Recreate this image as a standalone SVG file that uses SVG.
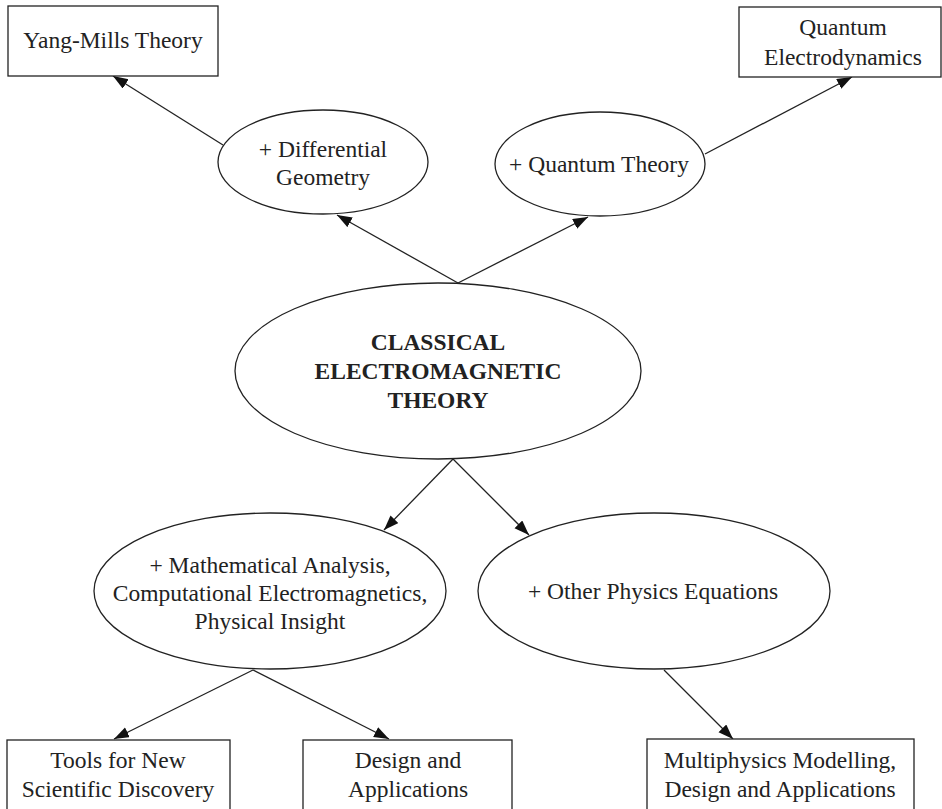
<svg xmlns="http://www.w3.org/2000/svg" width="942" height="809" viewBox="0 0 942 809">
<style>
.n{fill:#fff;stroke:#222;stroke-width:1.3}
.t{font-family:"Liberation Serif",serif;font-size:23.5px;fill:#222;text-anchor:middle}
.b{font-weight:bold;font-size:23.5px}
.e{stroke:#222;stroke-width:1.3;fill:none}
</style>
<defs>
<marker id="ah" markerUnits="userSpaceOnUse" markerWidth="16" markerHeight="12" refX="15" refY="5.5" orient="auto">
<path d="M0,0 L15,5.5 L0,11 z" fill="#111"/>
</marker>
</defs>
<g id="connectors">
<line class="e" x1="223" y1="145" x2="113" y2="76" marker-end="url(#ah)"/>
<line class="e" x1="705" y1="154" x2="852" y2="77" marker-end="url(#ah)"/>
<line class="e" x1="458" y1="283" x2="337" y2="215" marker-end="url(#ah)"/>
<line class="e" x1="458" y1="283" x2="588" y2="217" marker-end="url(#ah)"/>
<line class="e" x1="453" y1="459" x2="384" y2="530" marker-end="url(#ah)"/>
<line class="e" x1="453" y1="459" x2="529" y2="535" marker-end="url(#ah)"/>
<line class="e" x1="253" y1="670" x2="114" y2="739" marker-end="url(#ah)"/>
<line class="e" x1="253" y1="670" x2="389" y2="739" marker-end="url(#ah)"/>
<line class="e" x1="664" y1="670" x2="733" y2="739" marker-end="url(#ah)"/>
</g>
<g id="yangmills">
<rect class="n" x="8" y="6" width="210" height="70"/>
<text class="t" x="113" y="48">Yang-Mills Theory</text>
</g>
<g id="qed">
<rect class="n" x="739" y="7" width="202" height="70"/>
<text class="t" x="843" y="35">Quantum</text>
<text class="t" x="843" y="65">Electrodynamics</text>
</g>
<g id="diffgeom">
<ellipse class="n" cx="323" cy="162" rx="105" ry="52"/>
<text class="t" x="323" y="157">+ Differential</text>
<text class="t" x="323" y="185">Geometry</text>
</g>
<g id="quantum">
<ellipse class="n" cx="600" cy="164" rx="105" ry="52"/>
<text class="t" x="599" y="172">+ Quantum Theory</text>
</g>
<g id="classical">
<ellipse class="n" cx="438" cy="371" rx="203" ry="88"/>
<text class="t b" x="438" y="350">CLASSICAL</text>
<text class="t b" x="438" y="379">ELECTROMAGNETIC</text>
<text class="t b" x="438" y="408">THEORY</text>
</g>
<g id="math">
<ellipse class="n" cx="270" cy="591" rx="176" ry="78"/>
<text class="t" x="270" y="573">+ Mathematical Analysis,</text>
<text class="t" x="270" y="601">Computational Electromagnetics,</text>
<text class="t" x="270" y="629">Physical Insight</text>
</g>
<g id="other">
<ellipse class="n" cx="654" cy="591" rx="176" ry="78"/>
<text class="t" x="653" y="599">+ Other Physics Equations</text>
</g>
<g id="tools">
<rect class="n" x="7" y="740" width="223" height="80"/>
<text class="t" x="118" y="768">Tools for New</text>
<text class="t" x="118" y="797">Scientific Discovery</text>
</g>
<g id="design">
<rect class="n" x="303" y="740" width="209" height="80"/>
<text class="t" x="408" y="768">Design and</text>
<text class="t" x="408" y="797">Applications</text>
</g>
<g id="multi">
<rect class="n" x="647" y="739" width="267" height="80"/>
<text class="t" x="780" y="768">Multiphysics Modelling,</text>
<text class="t" x="780" y="797">Design and Applications</text>
</g>
</svg>
